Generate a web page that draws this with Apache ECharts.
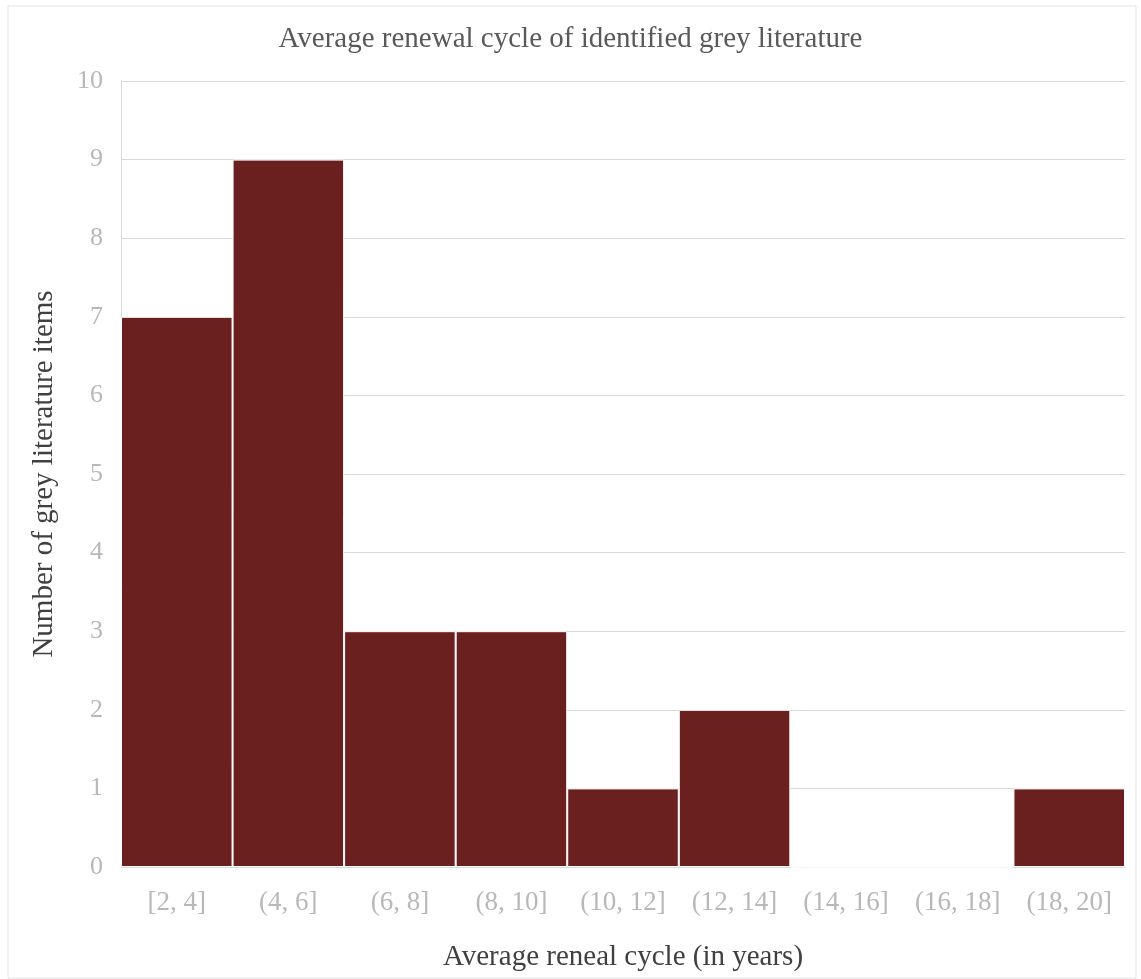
<!DOCTYPE html>
<html><head><meta charset="utf-8">
<script src="https://cdn.jsdelivr.net/npm/echarts@6/dist/echarts.min.js"></script>
<style>html,body{margin:0;padding:0;background:#fff}#c{width:1141px;height:979px}</style>
</head><body><div id="c"></div>
<script>
const categories = ['[2, 4]','(4, 6]','(6, 8]','(8, 10]','(10, 12]','(12, 14]','(14, 16]','(16, 18]','(18, 20]'];
const counts = [7, 9, 3, 3, 1, 2, 0, 0, 1];
const yTicks = [0,1,2,3,4,5,6,7,8,9,10];

const serif = '"Liberation Serif", "DejaVu Serif", serif';
const chart = echarts.init(document.getElementById('c'), null, {renderer:'canvas'});
chart.setOption({
  backgroundColor:'#fff',
  animation:false,
  graphic:[{type:'rect', shape:{x:8,y:6,width:1128,height:972}, style:{fill:'none', stroke:'#e3e3e3', lineWidth:1}, silent:true}],
  title:{text:'Average renewal cycle of identified grey literature', left:'center', top:20,
    textStyle:{fontFamily:serif, fontSize:29, fontWeight:'normal', color:'#595959'}},
  grid:{left:121, right:16, top:81, bottom:112, containLabel:false},
  xAxis:{type:'category', data:categories,
    name:'Average reneal cycle (in years)', nameLocation:'middle', nameGap:76,
    nameTextStyle:{fontFamily:serif, fontSize:29, color:'#404040'},
    axisLine:{show:true, lineStyle:{color:'#d9d9d9'}}, axisTick:{show:false},
    axisLabel:{fontFamily:serif, fontSize:27, color:'#b8b8b8', margin:22}},
  yAxis:{type:'value', min:0, max:10, interval:1,
    name:'Number of grey literature items', nameLocation:'middle', nameGap:62,
    nameTextStyle:{fontFamily:serif, fontSize:29, color:'#404040'},
    axisLine:{show:true, lineStyle:{color:'#d9d9d9'}}, axisTick:{show:false},
    axisLabel:{fontFamily:serif, fontSize:26, color:'#b8b8b8', margin:18, padding:[8,0,0,0],
      formatter:v=>yTicks.includes(v)?String(v):''},
    splitLine:{show:true, lineStyle:{color:'#d9d9d9', width:1}}},
  series:[{type:'bar', data:counts, barCategoryGap:'0%', barWidth:'100%',
    itemStyle:{color:'#6b2020', borderColor:'#ffffff', borderWidth:1}}]
});
</script></body></html>
